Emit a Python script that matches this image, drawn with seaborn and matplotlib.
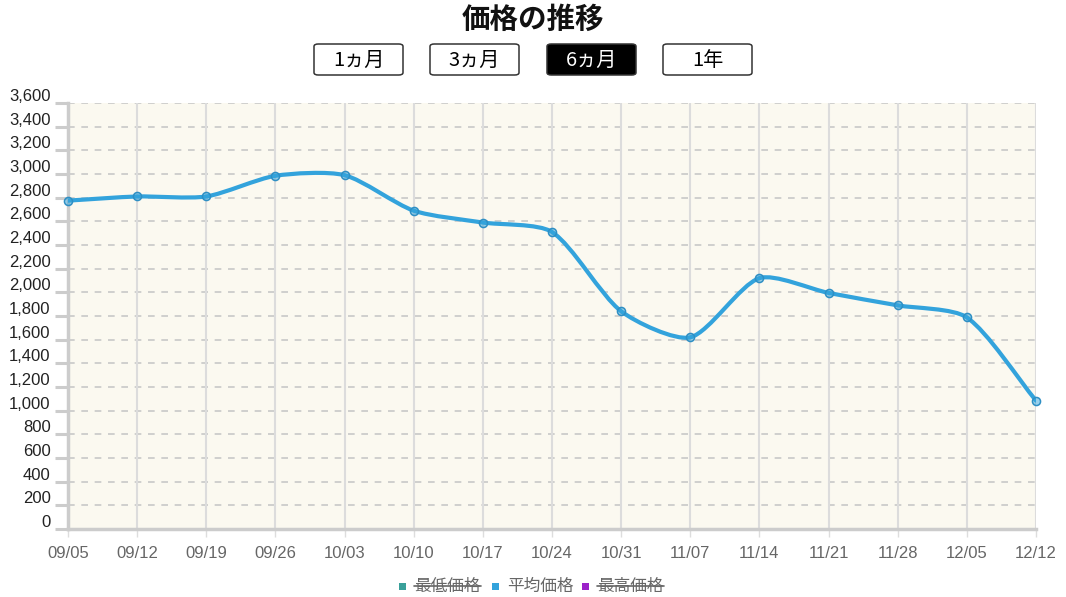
import numpy as np
import pandas as pd
import seaborn as sns
import matplotlib.pyplot as plt
from matplotlib.path import Path
from matplotlib.patches import PathPatch, FancyBboxPatch, Rectangle
from matplotlib.lines import Line2D
from matplotlib.transforms import ScaledTranslation

# chart data
dates = ["09/05", "09/12", "09/19", "09/26", "10/03", "10/10", "10/17", "10/24",
         "10/31", "11/07", "11/14", "11/21", "11/28", "12/05", "12/12"]
avg_price = [2775, 2810, 2810, 2985, 2990, 2690, 2590, 2510,
             1840, 1620, 2120, 1995, 1890, 1788, 1085]
y_ticks = list(range(0, 3601, 200))
ranges = ["1ヵ月", "3ヵ月", "6ヵ月", "1年"]
selected_range = "6ヵ月"
legend_names = ["最低価格", "平均価格", "最高価格"]
legend_hidden = [True, False, True]
legend_colors = ["#3aa09a", "#33a3dc", "#9b22c9"]

BLUE = "#33a3dc"

sns.set_theme(style="white")
plt.rcParams['font.family'] = ['Liberation Sans', 'Noto Sans CJK JP', 'DejaVu Sans']
CJK = ['Noto Sans CJK JP', 'DejaVu Sans']

W, H = 1066, 597
fig = plt.figure(figsize=(W / 100, H / 100), dpi=100)
fig.patch.set_facecolor("white")

def fx(px):
    return px / W

def fy(py):
    return 1 - py / H

ax = fig.add_axes([fx(68), fy(529), fx(1036) - fx(68), fy(103) - fy(529)])
ax.set_facecolor("#fbf9f0")

df = pd.DataFrame({"idx": np.arange(len(dates)), "date": dates, "price": avg_price})

ax.set_xlim(0, len(dates) - 1)
ax.set_ylim(0, 3600)

# grid
for v in y_ticks[1:]:
    ax.axhline(v, color="#c8c8c8", lw=1.2, ls=(0, (4, 4)), zorder=1)
for i in df["idx"][1:]:
    ax.axvline(i, color="#dcdcdc", lw=1.5, zorder=1)

# smooth line (tension spline computed in pixel space)
pts = ax.transData.transform(np.column_stack([df["idx"], df["price"]]))
tension = 0.25
n = len(pts)
cp_prev = np.zeros_like(pts)
cp_next = np.zeros_like(pts)
for k in range(n):
    prev = pts[max(k - 1, 0)]
    cur = pts[k]
    nxt = pts[min(k + 1, n - 1)]
    d01 = np.hypot(*(cur - prev))
    d12 = np.hypot(*(nxt - cur))
    tot = d01 + d12 if d01 + d12 > 0 else 1
    fa = tension * d01 / tot
    fb = tension * d12 / tot
    cp_prev[k] = cur - fa * (nxt - prev)
    cp_next[k] = cur + fb * (nxt - prev)
verts = [pts[0]]
codes = [Path.MOVETO]
for k in range(n - 1):
    verts += [cp_next[k], cp_prev[k + 1], pts[k + 1]]
    codes += [Path.CURVE4] * 3
verts = ax.transData.inverted().transform(np.array(verts))
ax.add_patch(PathPatch(Path(verts, codes), fill=False, edgecolor=BLUE, lw=3.0,
                       capstyle="round", joinstyle="round", zorder=3))

sns.scatterplot(data=df, x="idx", y="price", ax=ax, s=34, marker="o",
                facecolor=(0.2, 0.64, 0.86, 0.5), edgecolor="#2e8fc4", linewidth=1.1,
                zorder=4, clip_on=False, legend=False)

# axes styling
for side in ["top", "right"]:
    ax.spines[side].set_visible(False)
for side in ["left", "bottom"]:
    ax.spines[side].set_color("#cccccc")
    ax.spines[side].set_linewidth(2.5)

ax.set_yticks(y_ticks)
ax.set_yticklabels([f"{v:,}" for v in y_ticks])
ax.set_xticks(df["idx"])
ax.set_xticklabels(dates)
ax.set_xlabel("")
ax.set_ylabel("")
ax.tick_params(axis="y", length=9.5, width=2.2, color="#cccccc", pad=3,
               labelsize=12, labelcolor="#222222", left=True)
ax.tick_params(axis="x", length=6, width=1, color="#dddddd", pad=6,
               labelsize=12, labelcolor="#666666", bottom=True)
shift = ScaledTranslation(0, 8 / 100, fig.dpi_scale_trans)
for lab in ax.get_yticklabels():
    lab.set_transform(lab.get_transform() + shift)

# title
fig.text(fx(533), fy(20), "価格の推移", ha="center", va="center", fontsize=20.5,
         fontweight="bold", color="#111111", family=CJK)

# range buttons
btn_x = [314, 430, 547, 663]
for label, x0 in zip(ranges, btn_x):
    sel = label == selected_range
    box = FancyBboxPatch((fx(x0), fy(75)), fx(89), fy(44) - fy(75),
                         boxstyle="round,pad=0,rounding_size=0.004",
                         transform=fig.transFigure, facecolor="black" if sel else "white",
                         edgecolor="#333333", lw=1.1)
    fig.patches.append(box)
    fig.text(fx(x0 + 44.5), fy(60), label, ha="center", va="center", fontsize=14.5,
             color="white" if sel else "black", family=CJK)

# legend with struck-through hidden series
leg_x = [402, 495, 585]
texts = []
for name, hidden, col, x0 in zip(legend_names, legend_hidden, legend_colors, leg_x):
    fig.patches.append(Rectangle((fx(x0 - 3.5), fy(590)), fx(7), fy(583) - fy(590),
                                 transform=fig.transFigure, facecolor=col, edgecolor="none"))
    t = fig.text(fx(x0 + 12), fy(586), name, ha="left", va="center", fontsize=12,
                 color="#666666", family=CJK)
    texts.append((t, hidden))

fig.canvas.draw()
renderer = fig.canvas.get_renderer()
for t, hidden in texts:
    if hidden:
        bb = t.get_window_extent(renderer)
        ymid = (bb.y0 + bb.y1) / 2
        fig.lines.append(Line2D([bb.x0 / W, bb.x1 / W], [ymid / H, ymid / H],
                                transform=fig.transFigure, color="#666666", lw=1.2))

fig.savefig("out.png", dpi=100, facecolor="white")
